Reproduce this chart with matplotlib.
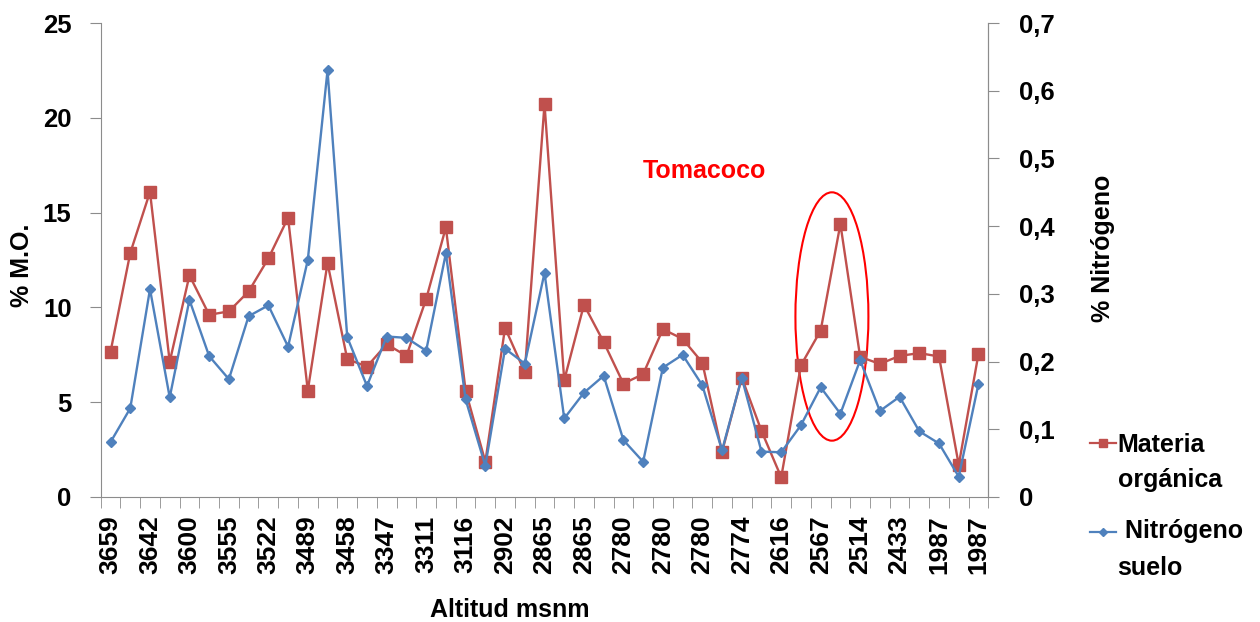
import matplotlib.pyplot as plt
from matplotlib.lines import Line2D
from matplotlib.patches import Ellipse
import numpy as np

plt.rcParams['font.family'] = ['Liberation Sans', 'DejaVu Sans']
plt.rcParams['font.weight'] = 'bold'

# materia organica (%), left axis
mo = [7.66, 12.87, 16.09, 7.13, 11.69, 9.61, 9.79, 10.84, 12.58, 14.73,
      5.61, 12.34, 7.27, 6.88, 8.06, 7.44, 10.44, 14.22, 5.60, 1.86,
      8.92, 6.58, 20.73, 6.16, 10.14, 8.17, 5.98, 6.48, 8.85, 8.34,
      7.09, 2.38, 6.30, 3.48, 1.04, 6.95, 8.78, 14.40, 7.39, 7.02,
      7.44, 7.59, 7.41, 1.69, 7.55]
# nitrogeno suelo (%), right axis
nit = [0.081, 0.131, 0.307, 0.147, 0.291, 0.208, 0.174, 0.267, 0.283, 0.222,
       0.350, 0.630, 0.236, 0.164, 0.237, 0.235, 0.216, 0.360, 0.144, 0.046,
       0.219, 0.197, 0.331, 0.116, 0.154, 0.179, 0.084, 0.052, 0.191, 0.210,
       0.165, 0.069, 0.176, 0.067, 0.066, 0.106, 0.162, 0.123, 0.202, 0.127,
       0.148, 0.097, 0.079, 0.030, 0.167]
# only every other category is labelled
alt_labels = ["3659", "3642", "3600", "3555", "3522", "3489", "3458", "3347",
              "3311", "3116", "2902", "2865", "2865", "2780", "2780", "2780",
              "2774", "2616", "2567", "2514", "2433", "1987", "1987"]

red = '#C0504D'
blue = '#4F81BD'
grey = '#8C8C8C'

fig = plt.figure(figsize=(12.6, 6.22), dpi=100)
ax1 = fig.add_axes([0.0799, 0.201, 0.7045, 0.762])
ax2 = ax1.twinx()

x = np.arange(len(mo))
ax1.plot(x, mo, color=red, lw=1.7, marker='s', ms=8, label="Materia orgánica")
ax2.plot(x, nit, color=blue, lw=1.7, marker='D', ms=5.5, label="Nitrógeno suelo")

ax1.set_xlim(-0.5, len(mo) - 0.5)
ax1.set_ylim(0, 25)
ax2.set_ylim(0, 0.7)
ax1.set_yticks(range(0, 26, 5))
ax2.set_yticks(np.arange(0, 0.71, 0.1))
ax2.set_yticklabels(["0"] + ["0,%d" % i for i in range(1, 8)])

ax1.set_xticks(x[::2])
ax1.set_xticklabels(alt_labels, rotation=90, fontsize=19, fontweight='bold')
ax1.set_xticks(np.arange(-0.5, len(mo)), minor=True)
ax1.tick_params(axis='x', which='major', length=0, pad=13.5)
ax1.tick_params(axis='x', which='minor', length=8, color=grey)
ax1.tick_params(axis='y', length=8, color=grey, labelsize=18.5, pad=13)
ax2.tick_params(axis='y', length=8, color=grey, labelsize=18.5, pad=14)
for lab in ax1.get_yticklabels() + ax2.get_yticklabels():
    lab.set_fontweight('bold')

for ax in (ax1, ax2):
    ax.spines['top'].set_visible(False)
    for s in ('left', 'right', 'bottom'):
        ax.spines[s].set_color(grey)
ax2.spines['left'].set_visible(False)
ax2.spines['bottom'].set_visible(False)

ax1.set_ylabel("% M.O.", fontsize=18, fontweight='bold')
ax2.set_ylabel("% Nitrógeno", fontsize=18, fontweight='bold')
ax1.set_xlabel("Altitud msnm", fontsize=18, fontweight='bold')
ax1.yaxis.set_label_coords(-0.0887, 0.489)
ax2.yaxis.set_label_coords(1.1295, 0.524)
ax1.xaxis.set_label_coords(0.461, -0.238)
for lab in (ax1.yaxis.label, ax2.yaxis.label, ax1.xaxis.label):
    lab.set_verticalalignment('center')
    lab.set_horizontalalignment('center')

ax1.add_patch(Ellipse((36.57, 9.52), 3.7, 13.1, fill=False, ec='red', lw=1.5))
ax1.text(30.1, 17.2, "Tomacoco", color='red', fontsize=18, fontweight='bold',
         ha='center', va='center')

# legend drawn by hand so the marker sits beside the first text line
for yh, yb, col, mk, ms, lines in [(0.287, (0.274, 0.2175), red, 's', 6, ["Materia", "orgánica"]),
                                   (0.145, (0.135, 0.0756), blue, 'D', 4, [" Nitrógeno", "suelo"])]:
    fig.add_artist(Line2D([0.865, 0.886], [yh, yh], color=col, lw=1.6,
                          transform=fig.transFigure))
    fig.add_artist(Line2D([0.8755], [yh], color=col, marker=mk, ms=ms,
                          transform=fig.transFigure))
    fig.text(0.887, yb[0], lines[0], fontsize=18, fontweight='bold', va='baseline')
    fig.text(0.887, yb[1], lines[1], fontsize=18, fontweight='bold', va='baseline')

fig.savefig("out.png", dpi=100)
